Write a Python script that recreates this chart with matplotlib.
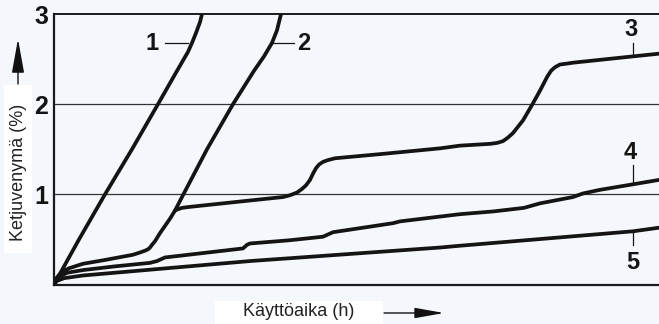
import matplotlib
matplotlib.use("Agg")
import matplotlib.pyplot as plt
from matplotlib.patches import Rectangle, FancyArrowPatch

plt.rcParams['font.family'] = ['Liberation Sans', 'DejaVu Sans']

# ---- data (time in arbitrary units, elongation in %) ----
c1_x = [0, 25, 51, 78, 104, 122, 134, 138, 142, 146, 148]
c1_y = [0, 0.5, 1.0, 1.5, 2.0, 2.35, 2.58, 2.68, 2.79, 2.91, 3.0]

c2_x = [0, 3, 8, 15, 29, 50, 79, 86, 91, 94, 96, 98, 101, 106, 111, 116, 121, 128, 153, 179, 200, 210, 218, 223, 227]
c2_y = [0, 0.08, 0.14, 0.18, 0.23, 0.27, 0.33, 0.355, 0.375, 0.39, 0.41, 0.44, 0.48, 0.57, 0.65, 0.73, 0.82, 0.97, 1.5, 2.0, 2.37, 2.53, 2.68, 2.82, 3.0]

c3_x = [121, 124, 128, 135, 186, 229, 236, 243, 248, 252, 256, 259, 262, 265, 269, 274, 281, 330, 386, 406, 436, 443, 449, 454, 459, 464, 469, 479, 486, 493, 497, 501, 506, 513, 519, 579, 605]
c3_y = [0.82, 0.835, 0.85, 0.86, 0.92, 0.97, 0.99, 1.02, 1.06, 1.10, 1.16, 1.23, 1.29, 1.33, 1.36, 1.38, 1.40, 1.45, 1.51, 1.54, 1.56, 1.57, 1.59, 1.63, 1.68, 1.75, 1.82, 2.01, 2.15, 2.30, 2.37, 2.41, 2.44, 2.45, 2.46, 2.53, 2.56]

c4_x = [0, 3, 8, 13, 29, 60, 96, 103, 111, 150, 189, 193, 196, 235, 269, 279, 339, 346, 406, 439, 470, 486, 519, 529, 546, 573, 605]
c4_y = [0, 0.06, 0.10, 0.13, 0.16, 0.20, 0.24, 0.26, 0.30, 0.35, 0.40, 0.44, 0.455, 0.49, 0.53, 0.58, 0.68, 0.70, 0.78, 0.81, 0.85, 0.90, 0.97, 1.01, 1.05, 1.10, 1.16]

c5_x = [0, 3, 10, 29, 196, 386, 406, 579, 605]
c5_y = [0, 0.04, 0.07, 0.10, 0.26, 0.41, 0.43, 0.59, 0.63]

y_ticks = [1, 2, 3]
y_ticklabels = ["1", "2", "3"]

W, H = 659, 324
BG = '#f4f8fc'

fig = plt.figure(figsize=(W / 100, H / 100), dpi=100, facecolor=BG)
left = 54 / W
bottom = (H - 284.5) / H
top = (H - 14) / H
ax = fig.add_axes([left, bottom, 1 - left, top - bottom], facecolor=BG)
ax.set_xlim(0, 605)
ax.set_ylim(0, 3)

lw = 2.7
col = '#141414'
for xs, ys in [(c1_x, c1_y), (c2_x, c2_y), (c3_x, c3_y), (c4_x, c4_y), (c5_x, c5_y)]:
    ax.plot(xs, ys, color=col, lw=lw, solid_capstyle='round', solid_joinstyle='round', clip_on=True, zorder=3)

# grid lines
for yv in [1, 2]:
    ax.axhline(yv, color='#333333', lw=0.9, zorder=1)

ax.spines['right'].set_visible(False)
ax.spines['top'].set_linewidth(1.4)
ax.spines['left'].set_linewidth(1.6)
ax.spines['bottom'].set_linewidth(1.6)
for s in ['top', 'left', 'bottom']:
    ax.spines[s].set_color('#1a1a1a')

ax.set_xticks([])
ax.set_yticks(y_ticks)
ax.set_yticklabels(y_ticklabels, fontsize=18, fontweight='bold', color='#141414')
ax.tick_params(axis='y', length=0, pad=4)

# curve labels with leader lines
lab_kw = dict(fontsize=17, fontweight='bold', ha='center', va='center', color=col)
ax.text(98, 2.67, "1", **lab_kw)
ax.plot([111, 134], [2.68, 2.68], color=col, lw=0.9)
ax.text(250, 2.67, "2", **lab_kw)
ax.plot([218, 240], [2.68, 2.68], color=col, lw=0.9)
ax.text(577, 2.83, "3", **lab_kw)
ax.plot([579, 579], [2.68, 2.54], color=col, lw=0.9)
ax.text(576, 1.46, "4", **lab_kw)
ax.plot([579, 579], [1.33, 1.11], color=col, lw=0.9)
ax.text(579, 0.24, "5", **lab_kw)
ax.plot([579, 579], [0.59, 0.44], color=col, lw=0.9)

# axis label boxes
def fx(px):
    return px / W

def fy(py):
    return (H - py) / H

fig.patches.append(Rectangle((fx(4), fy(253)), (32 - 4) / W, (253 - 85) / H,
                             transform=fig.transFigure, facecolor='white', edgecolor='none', zorder=0))
fig.patches.append(Rectangle((fx(215), fy(324)), (383 - 215) / W, (324 - 301) / H,
                             transform=fig.transFigure, facecolor='white', edgecolor='none', zorder=0))

fig.text(fx(19), fy(172), "Ketjuvenymä (%)", rotation=90, ha='center', va='center', fontsize=13, color='#222222')
fig.text(fx(299), fy(311), "Käyttöaika (h)", ha='center', va='center', fontsize=13, color='#222222')

# arrows
fig.add_artist(FancyArrowPatch(
    (fx(18), fy(84)), (fx(18), fy(39)), transform=fig.transFigure,
    arrowstyle='-|>,head_length=2.1,head_width=0.38', mutation_scale=10,
    shrinkA=0, shrinkB=0, color='#111111', lw=1.0))
fig.add_artist(FancyArrowPatch(
    (fx(384), fy(313)), (fx(444), fy(313)), transform=fig.transFigure,
    arrowstyle='-|>,head_length=1.8,head_width=0.32', mutation_scale=10,
    shrinkA=0, shrinkB=0, color='#111111', lw=1.0))

fig.savefig("out.png", dpi=100, facecolor=BG)
